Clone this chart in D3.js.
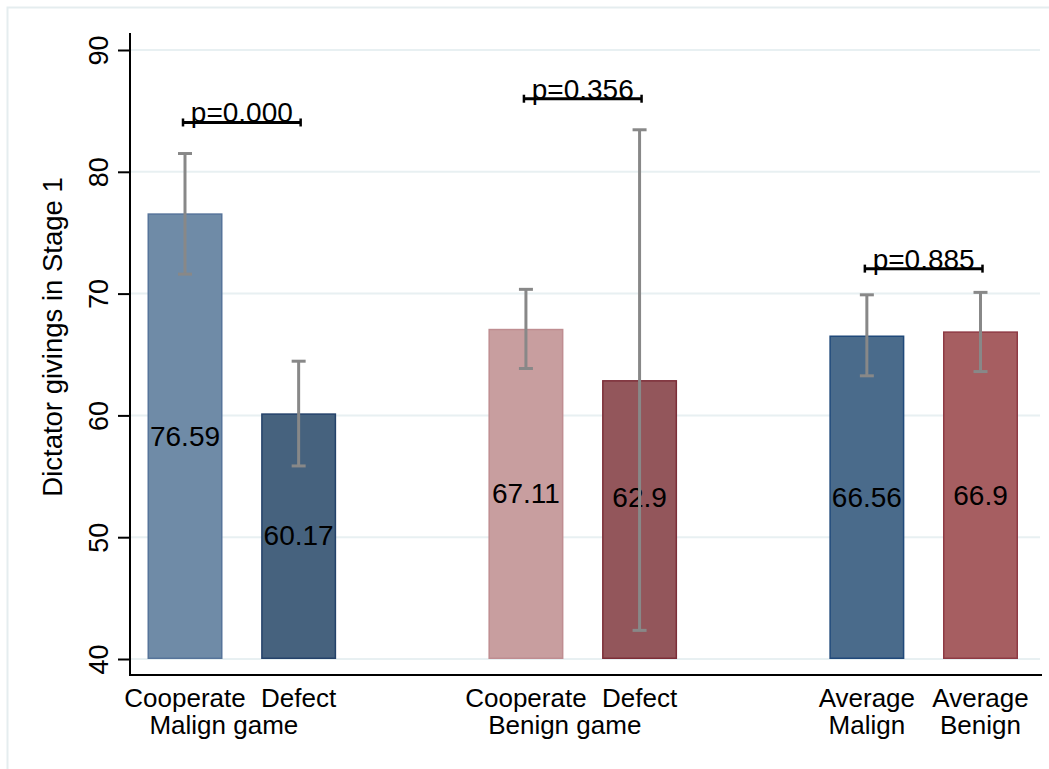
<!DOCTYPE html>
<html>
<head>
<meta charset="utf-8">
<script src="https://cdn.jsdelivr.net/npm/d3@7"></script>
<style>
  body { margin: 0; background: #fff; }
  text { font-family: "Liberation Sans", Arial, Helvetica, sans-serif; fill: #000; }
</style>
</head>
<body>
<svg width="1049" height="769"></svg>
<script>
// data
var slots = ["mc", "md", "gap1", "bc", "bd", "gap2", "am", "ab"];
var barSlots = ["mc", "md", "bc", "bd", "am", "ab"];
var barNames = ["Cooperate", "Defect", "Cooperate", "Defect", "Average", "Average"];
var means = [76.59, 60.17, 67.11, 62.9, 66.56, 66.9];
var lower = [71.6, 55.85, 63.85, 42.35, 63.25, 63.6];
var upper = [81.5, 64.45, 70.35, 83.45, 69.9, 70.1];
var meanLabels = ["76.59", "60.17", "67.11", "62.9", "66.56", "66.9"];
// value at which each mean label sits
var labelAt = [58.3, 50.1, 53.55, 53.3, 53.28, 53.45];
var fills = ["#6f8ba7", "#46627e", "#c89e9f", "#93565b", "#4a6b8b", "#a65e61"];
var strokes = ["#56749a", "#24426a", "#bf8d91", "#7c2e38", "#20497a", "#8e3a44"];

var groupNames = ["Malign game", "Benign game"];
var groupFrom = ["mc", "bc"];
var groupTo = ["md", "bd"];
var avgSecond = ["Malign", "Benign"];
var avgSlots = ["am", "ab"];

var pLabels = ["p=0.000", "p=0.356", "p=0.885"];
var pFrom = ["mc", "bc", "am"];
var pTo = ["md", "bd", "ab"];
var pY = [84.05, 86.0, 72.05];

var yTicks = [40, 50, 60, 70, 80, 90];

var svg = d3.select("svg");

// outer frame
svg.append("rect")
  .attr("x", 7.5).attr("y", 7.5)
  .attr("width", 1100).attr("height", 800)
  .attr("fill", "none")
  .attr("stroke", "#e5edef")
  .attr("stroke-width", 2);

var axisX = 130, axisBottom = 675, plotRight = 1042;

var x = d3.scaleBand()
  .domain(slots)
  .range([147.5, 1018])
  .paddingInner(0.34)
  .paddingOuter(0);

var y = d3.scaleLinear()
  .domain([40, 90])
  .range([659, 50]);

var cx = function(s){ return x(s) + x.bandwidth() / 2; };

// grid
svg.append("g").selectAll("line")
  .data(yTicks)
  .enter()
  .append("line")
  .attr("x1", axisX + 1).attr("x2", plotRight - 2)
  .attr("y1", function(d){ return y(d); })
  .attr("y2", function(d){ return y(d); })
  .attr("stroke", "#e8f0f2")
  .attr("stroke-width", 2);

// bars
svg.append("g").selectAll("rect")
  .data(means)
  .enter()
  .append("rect")
  .attr("x", function(d, i){ return x(barSlots[i]) + 0.75; })
  .attr("y", function(d){ return y(d) + 0.75; })
  .attr("width", x.bandwidth() - 1.5)
  .attr("height", function(d){ return y(40) - y(d) - 1.5; })
  .attr("fill", function(d, i){ return fills[i]; })
  .attr("stroke", function(d, i){ return strokes[i]; })
  .attr("stroke-width", 1.5);

// mean labels inside each bar
svg.append("g").selectAll("text")
  .data(means)
  .enter()
  .append("text")
  .attr("x", function(d, i){ return cx(barSlots[i]); })
  .attr("y", function(d, i){ return y(labelAt[i]); })
  .attr("text-anchor", "middle")
  .attr("dominant-baseline", "central")
  .style("font-size", "28px")
  .text(function(d, i){ return meanLabels[i]; });

// error bars
var eb = svg.append("g")
  .attr("stroke", "#888888")
  .attr("stroke-width", 3);
means.forEach(function(d, i){
  var c = cx(barSlots[i]);
  eb.append("line").attr("x1", c).attr("x2", c).attr("y1", y(lower[i])).attr("y2", y(upper[i]));
  eb.append("line").attr("x1", c - 7).attr("x2", c + 7).attr("y1", y(upper[i])).attr("y2", y(upper[i]));
  eb.append("line").attr("x1", c - 7).attr("x2", c + 7).attr("y1", y(lower[i])).attr("y2", y(lower[i]));
});

// p-value brackets
pLabels.forEach(function(lab, i){
  var x1 = cx(pFrom[i]) - 2, x2 = cx(pTo[i]) + 2, yy = y(pY[i]);
  var g = svg.append("g");
  g.append("line").attr("x1", x1).attr("x2", x2).attr("y1", yy).attr("y2", yy)
    .attr("stroke", "#000").attr("stroke-width", 3);
  [x1, x2].forEach(function(xx){
    g.append("line").attr("x1", xx).attr("x2", xx).attr("y1", yy - 4).attr("y2", yy + 4)
      .attr("stroke", "#000").attr("stroke-width", 2.5);
  });
  g.append("text")
    .attr("x", (x1 + x2) / 2)
    .attr("y", yy)
    .attr("text-anchor", "middle")
    .style("font-size", "28px")
    .text(lab);
});

// y axis
var yAxis = d3.axisLeft(y)
  .tickValues(yTicks)
  .tickSize(12)
  .tickSizeOuter(0)
  .tickFormat(d3.format("d"));

var ya = svg.append("g")
  .attr("transform", "translate(" + axisX + ",0)")
  .call(yAxis);
ya.select(".domain").remove();
ya.selectAll(".tick line").attr("stroke", "#000").attr("stroke-width", 2);
ya.selectAll(".tick text")
  .attr("transform", "rotate(-90)")
  .attr("x", 0)
  .attr("y", -22)
  .attr("dy", 0)
  .attr("text-anchor", "middle")
  .style("font-size", "27px")
  .style("font-family", "'Liberation Sans', Arial, sans-serif")
  .attr("fill", "#000");

svg.append("line")
  .attr("x1", axisX).attr("x2", axisX)
  .attr("y1", 33).attr("y2", axisBottom + 1)
  .attr("stroke", "#000").attr("stroke-width", 2);

svg.append("line")
  .attr("x1", axisX - 1).attr("x2", plotRight)
  .attr("y1", axisBottom).attr("y2", axisBottom)
  .attr("stroke", "#000").attr("stroke-width", 2);

// x labels
svg.append("g").selectAll("text")
  .data(barNames)
  .enter()
  .append("text")
  .attr("x", function(d, i){ return cx(barSlots[i]); })
  .attr("y", 707)
  .attr("text-anchor", "middle")
  .style("font-size", "26px")
  .text(function(d){ return d; });

groupNames.forEach(function(n, i){
  svg.append("text")
    .attr("x", (cx(groupFrom[i]) + cx(groupTo[i])) / 2 - 18)
    .attr("y", 734)
    .attr("text-anchor", "middle")
    .style("font-size", "26px")
    .text(n);
});

avgSecond.forEach(function(n, i){
  svg.append("text")
    .attr("x", cx(avgSlots[i]))
    .attr("y", 734)
    .attr("text-anchor", "middle")
    .style("font-size", "26px")
    .text(n);
});

// y title
svg.append("text")
  .attr("transform", "translate(62,337) rotate(-90)")
  .attr("text-anchor", "middle")
  .style("font-size", "27.5px")
  .text("Dictator givings in Stage 1");
</script>
</body>
</html>
